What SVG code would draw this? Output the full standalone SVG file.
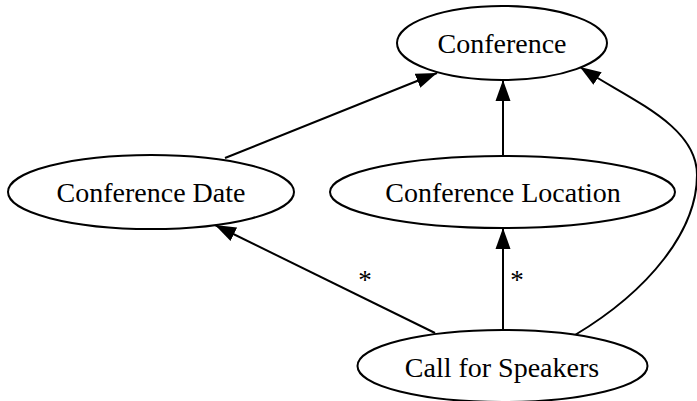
<svg xmlns="http://www.w3.org/2000/svg" width="697" height="401" viewBox="0 0 697 401">
<defs>
<style>
.node ellipse{fill:#fff;stroke:#000;stroke-width:2}
.node text{font-family:"Liberation Serif","Times New Roman",serif;font-size:28px;fill:#000;text-anchor:middle}
.edges path{fill:none;stroke:#000;stroke-width:2}
.lbl{font-family:"Liberation Serif","Times New Roman",serif;font-size:27px;fill:#000;text-anchor:middle}
</style>
<marker id="arr" markerUnits="userSpaceOnUse" markerWidth="22" markerHeight="16" viewBox="0 0 22 16" refX="21" refY="8" orient="auto">
<path d="M0,0.5 L21,8 L0,15.5 Z" fill="#000"/>
</marker>
</defs>
<rect width="697" height="401" fill="#fff"/>
<g id="edges" class="edges">
<path d="M225,158 L437,73" marker-end="url(#arr)"/>
<path d="M503,155 L503,80" marker-end="url(#arr)"/>
<path d="M435,333 L215,225" marker-end="url(#arr)"/>
<path d="M503,330 L503,228" marker-end="url(#arr)"/>
<path d="M575,335 C650,290 697,230 697,175 C697,125 630,100 580,67" marker-end="url(#arr)"/>
<text class="lbl" x="365" y="289">*</text>
<text class="lbl" x="517" y="289">*</text>
</g>
<g id="conference" class="node">
<ellipse cx="502" cy="43" rx="105" ry="37"/>
<text x="502" y="53">Conference</text>
</g>
<g id="conference-date" class="node">
<ellipse cx="151" cy="192" rx="143" ry="37"/>
<text x="151" y="202">Conference Date</text>
</g>
<g id="conference-location" class="node">
<ellipse cx="502.5" cy="192" rx="172.5" ry="36"/>
<text x="503" y="202">Conference Location</text>
</g>
<g id="call-for-speakers" class="node">
<ellipse cx="502.5" cy="366" rx="145" ry="36"/>
<text x="502" y="377">Call for Speakers</text>
</g>
</svg>
